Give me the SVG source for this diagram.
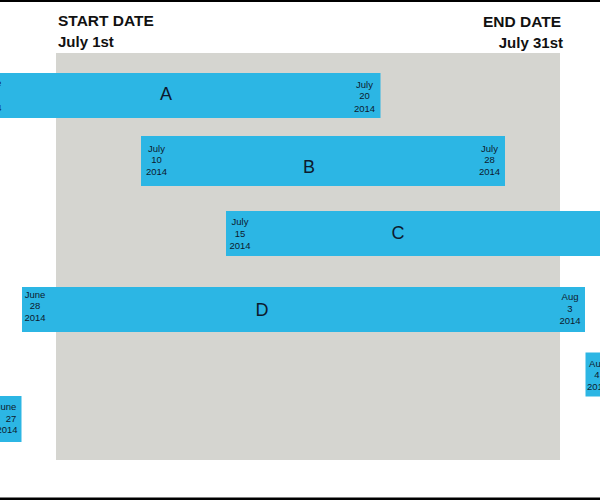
<svg xmlns="http://www.w3.org/2000/svg" width="600" height="500" viewBox="0 0 600 500">
<style>
.bar{fill:#2cb6e4}
.hd{font-family:"Liberation Sans",Arial,sans-serif;font-weight:bold;font-size:15.5px;fill:#111}
.hd2{font-family:"Liberation Sans",Arial,sans-serif;font-weight:bold;font-size:15px;fill:#111}
.dt{font-family:"Liberation Sans",Arial,sans-serif;font-size:9.5px;fill:#0d1a2e;text-anchor:middle}
.lb{font-family:"Liberation Sans",Arial,sans-serif;font-size:18px;fill:#0d1a2e;text-anchor:middle}
</style>
<rect x="0" y="0" width="600" height="500" fill="#fff"/>
<rect x="0" y="0" width="600" height="2" fill="#000"/>
<rect x="0" y="497.5" width="600" height="2.5" fill="#000"/>
<rect id="range" x="56" y="53" width="504" height="407" fill="#d5d5d0"/>
<g id="headers">
<text class="hd" x="58" y="26">START DATE</text>
<text class="hd2" x="58" y="47">July 1st</text>
<text class="hd" x="561" y="27" text-anchor="end">END DATE</text>
<text class="hd2" x="563" y="48" text-anchor="end">July 31st</text>
</g>
<g id="A">
<rect class="bar" x="-10" y="73" width="390.500" height="45"/>
<text class="dt" x="-9" y="86">June</text>
<text class="dt" x="-9" y="111">2014</text>
<text class="dt" x="364.500" y="87.500">July</text>
<text class="dt" x="364.500" y="99">20</text>
<text class="dt" x="364.500" y="111.500">2014</text>
<text class="lb" x="166" y="100">A</text>
</g>
<g id="B">
<rect class="bar" x="141" y="136" width="364" height="50"/>
<text class="dt" x="156.500" y="151.500">July</text>
<text class="dt" x="156.500" y="163">10</text>
<text class="dt" x="156.500" y="175">2014</text>
<text class="dt" x="489.500" y="151.500">July</text>
<text class="dt" x="489.500" y="163">28</text>
<text class="dt" x="489.500" y="175">2014</text>
<text class="lb" x="309" y="172.500">B</text>
</g>
<g id="C">
<rect class="bar" x="226" y="211" width="384" height="45"/>
<text class="dt" x="240" y="224.500">July</text>
<text class="dt" x="240" y="237">15</text>
<text class="dt" x="240" y="249">2014</text>
<text class="lb" x="398" y="239">C</text>
</g>
<g id="D">
<rect class="bar" x="22" y="287" width="563" height="45"/>
<text class="dt" x="35" y="297.500">June</text>
<text class="dt" x="35" y="309">28</text>
<text class="dt" x="35" y="321">2014</text>
<text class="dt" x="570" y="300">Aug</text>
<text class="dt" x="570" y="311.500">3</text>
<text class="dt" x="570" y="323.500">2014</text>
<text class="lb" x="262" y="316">D</text>
</g>
<g id="E">
<rect class="bar" x="-10" y="396" width="31.500" height="46"/>
<text class="dt" x="6" y="410">June</text>
<text class="dt" x="11" y="422">27</text>
<text class="dt" x="7" y="433">2014</text>
</g>
<g id="F">
<rect class="bar" x="585.500" y="352.500" width="20" height="44"/>
<text class="dt" x="597.500" y="366.500">Aug</text>
<text class="dt" x="597" y="378">4</text>
<text class="dt" x="597.500" y="390">2014</text>
</g>
</svg>
